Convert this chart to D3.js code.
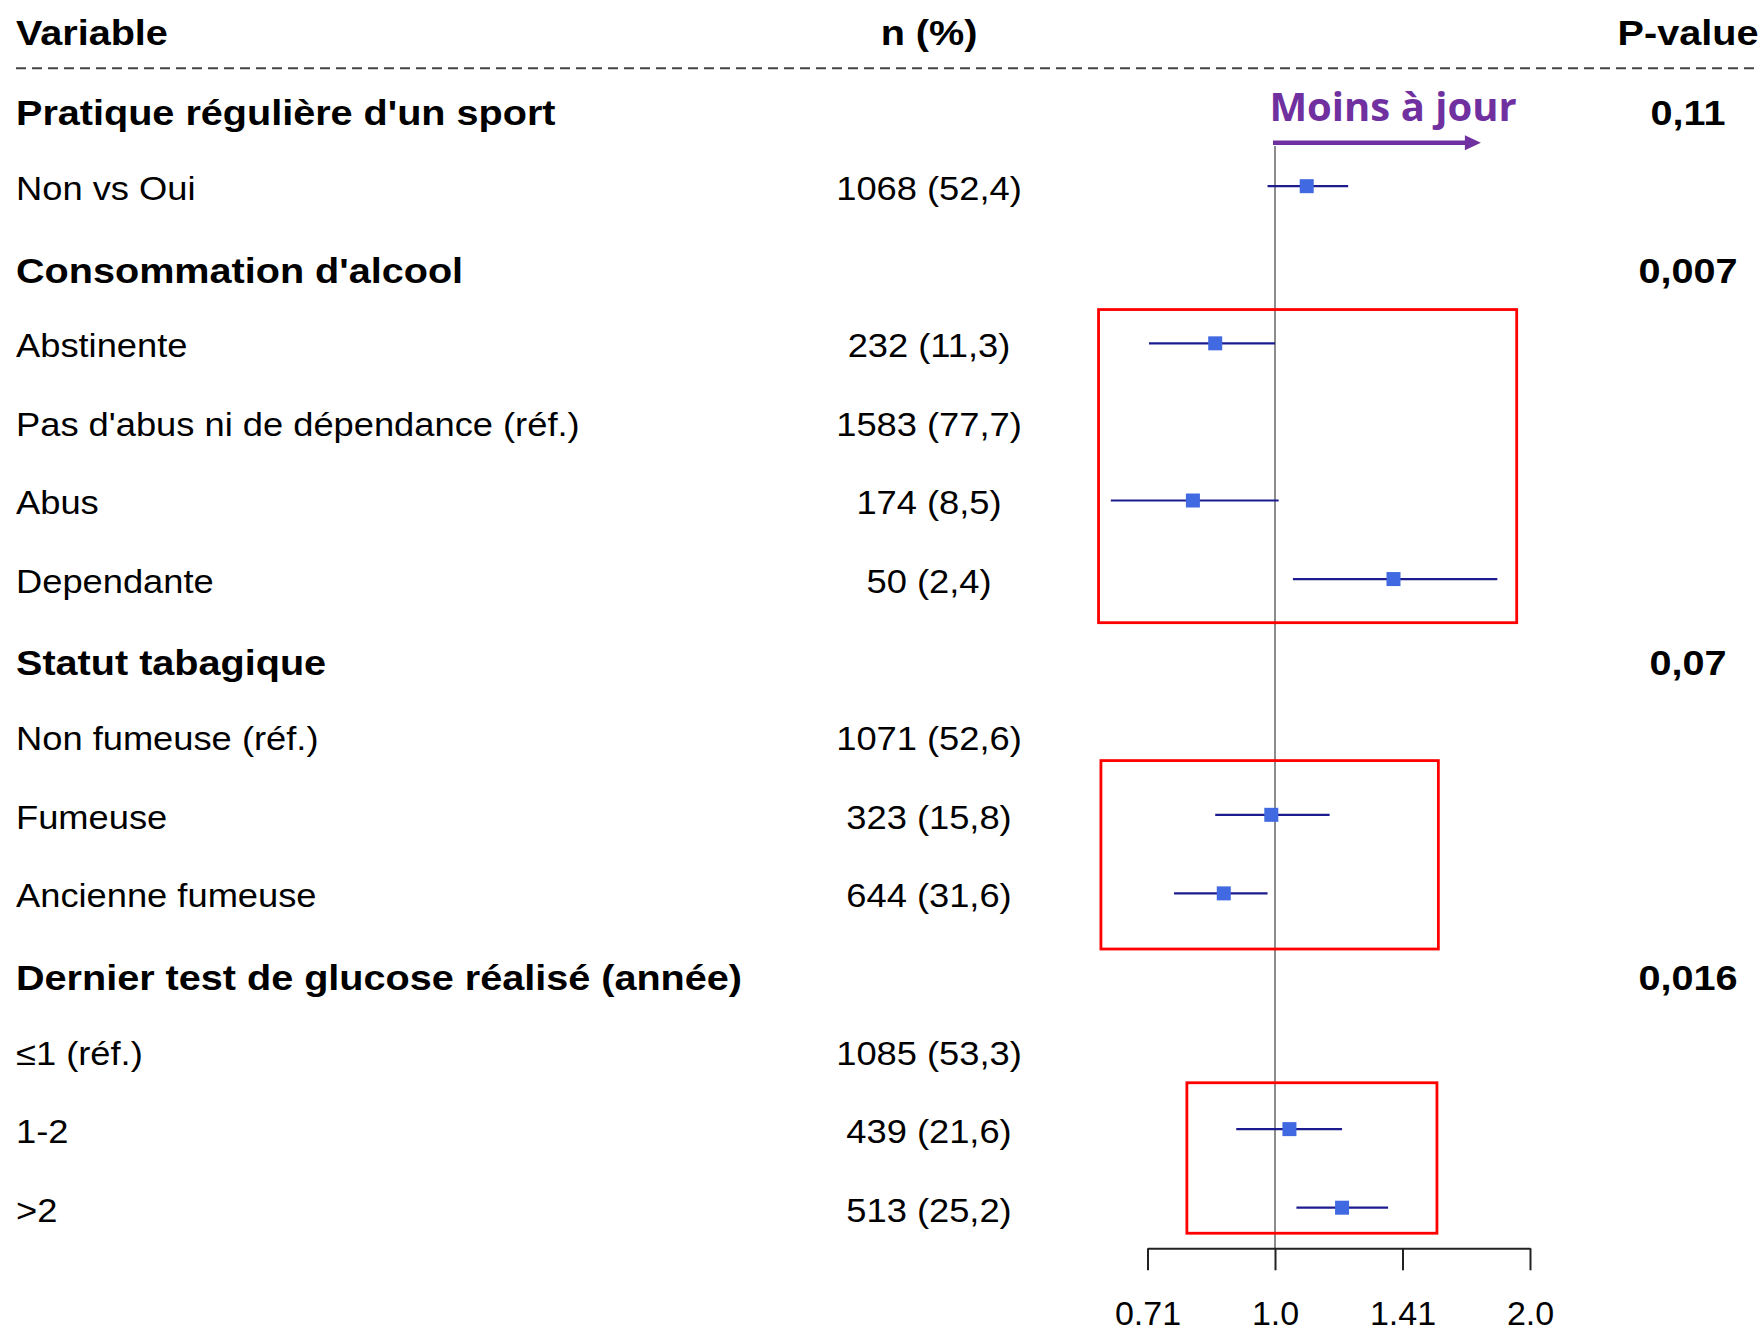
<!DOCTYPE html>
<html>
<head>
<meta charset="utf-8">
<script src="https://cdn.jsdelivr.net/npm/d3@7"></script>
<style>
  html, body { margin: 0; padding: 0; background: #fff; }
  svg { display: block; }
  text { font-family: "Liberation Sans", Arial, sans-serif; fill: #000; }
</style>
</head>
<body>
<svg id="chart" width="1762" height="1333"></svg>
<script>
// ---------- DATA ----------
const labels = [
  "Pratique régulière d'un sport",
  "Non vs Oui",
  "Consommation d'alcool",
  "Abstinente",
  "Pas d'abus ni de dépendance (réf.)",
  "Abus",
  "Dependante",
  "Statut tabagique",
  "Non fumeuse (réf.)",
  "Fumeuse",
  "Ancienne fumeuse",
  "Dernier test de glucose réalisé (année)",
  "≤1 (réf.)",
  "1-2",
  ">2"
];
const isGroup = [true, false, true, false, false, false, false, true, false, false, false, true, false, false, false];
const nPct = ["", "1068 (52,4)", "", "232 (11,3)", "1583 (77,7)", "174 (8,5)", "50 (2,4)", "",
              "1071 (52,6)", "323 (15,8)", "644 (31,6)", "", "1085 (53,3)", "439 (21,6)", "513 (25,2)"];
const pValues = ["0,11", "", "0,007", "", "", "", "", "0,07", "", "", "", "0,016", "", "", ""];
const orValues = [null, 1.09, null, 0.85, null, 0.80, 1.38, null, null, 0.99, 0.87, null, null, 1.04, 1.20];
const ciLow    = [null, 0.98, null, 0.71, null, 0.64, 1.05, null, null, 0.85, 0.76, null, null, 0.90, 1.06];
const ciHigh   = [null, 1.22, null, 1.00, null, 1.01, 1.83, null, null, 1.16, 0.98, null, null, 1.20, 1.36];

const tickValues = [0.7071, 1, 1.4142, 2];
const tickLabels = ["0.71", "1.0", "1.41", "2.0"];
const headers = ["Variable", "n (%)", "P-value"];

// highlighted boxes in data units: [xFrom, xTo, rowFrom, rowTo]
const boxXFrom = [0.619, 0.623, 0.787];
const boxXTo   = [1.929, 1.559, 1.553];
const boxRowFrom = [2.57, 8.31, 12.41];
const boxRowTo   = [6.555, 10.708, 14.325];

const arrowLabel = "Moins à jour";
const arrowFrom = 1, arrowTo = 1.75;

// ---------- LAYOUT ----------
const svg = d3.select("#chart");
const x = d3.scaleLog().base(2).domain([0.7071, 2]).range([1147.5, 1530]);
const y = d3.scaleLinear().domain([0, 14]).range([107.6, 1207.7]);
const axisY = 1248.3;
const colLabel = 16, colN = 929, colP = 1688;
const stretch = 1.1;

function addText(g, tx, ty, str, opts) {
  const t = g.append("text")
    .attr("transform", `translate(${tx},${ty}) scale(${opts.sx || stretch},1)`)
    .attr("text-anchor", opts.anchor || "start")
    .style("font-size", opts.size + "px")
    .style("font-weight", opts.bold ? "bold" : "normal")
    .text(str);
  if (opts.family) t.style("font-family", opts.family);
  if (opts.fill) t.style("fill", opts.fill);
  return t;
}

// headers
const hg = svg.append("g");
addText(hg, colLabel, 45, headers[0], {size: 36, bold: true});
addText(hg, colN, 45, headers[1], {size: 36, bold: true, anchor: "middle"});
addText(hg, colP, 45, headers[2], {size: 36, bold: true, anchor: "middle"});

svg.append("line")
  .attr("x1", 16).attr("x2", 1755).attr("y1", 68.3).attr("y2", 68.3)
  .attr("stroke", "#444").attr("stroke-width", 2).attr("stroke-dasharray", "10,6");

// row texts
const tg = svg.append("g");
labels.forEach((lab, i) => {
  const byBold = y(i) + 17.8;
  const byNorm = y(i) + 14;
  addText(tg, colLabel, isGroup[i] ? byBold : byNorm, lab, {size: isGroup[i] ? 36 : 33, bold: isGroup[i]});
  if (nPct[i]) addText(tg, colN, byNorm, nPct[i], {size: 33, anchor: "middle"});
  if (pValues[i]) addText(tg, colP, byBold, pValues[i], {size: 36, bold: true, anchor: "middle"});
});

// reference line
svg.append("line")
  .attr("x1", x(1)).attr("x2", x(1)).attr("y1", 146).attr("y2", axisY)
  .attr("stroke", "#8c8c8c").attr("stroke-width", 2);

// red boxes
svg.append("g").selectAll("rect").data(boxXFrom).join("rect")
  .attr("x", (d, i) => x(d))
  .attr("y", (d, i) => y(boxRowFrom[i]))
  .attr("width", (d, i) => x(boxXTo[i]) - x(d))
  .attr("height", (d, i) => y(boxRowTo[i]) - y(boxRowFrom[i]))
  .attr("fill", "none").attr("stroke", "#ff0000").attr("stroke-width", 2.8);

// CI lines and squares
const pts = orValues.map((v, i) => ({v, lo: ciLow[i], hi: ciHigh[i], i})).filter(d => d.v != null);
const mg = svg.append("g");
mg.selectAll("line").data(pts).join("line")
  .attr("x1", d => x(d.lo)).attr("x2", d => x(d.hi))
  .attr("y1", d => y(d.i)).attr("y2", d => y(d.i))
  .attr("stroke", "#1c1c8f").attr("stroke-width", 2.2);
const sq = 14;
mg.selectAll("rect").data(pts).join("rect")
  .attr("x", d => x(d.v) - sq / 2).attr("y", d => y(d.i) - sq / 2)
  .attr("width", sq).attr("height", sq)
  .attr("fill", "#4169e1");

// axis
const axis = d3.axisBottom(x).tickValues(tickValues)
  .tickFormat((d, i) => tickLabels[i]).tickSize(22).tickSizeOuter(0);
const ag = svg.append("g").attr("transform", `translate(0,${axisY})`).call(axis);
ag.select(".domain").attr("stroke", "#222").attr("stroke-width", 2);
ag.selectAll(".tick line").attr("stroke", "#222").attr("stroke-width", 2);
ag.selectAll(".tick text")
  .attr("y", 77).attr("dy", null)
  .style("font-size", "34px")
  .style("font-family", "'Liberation Sans', Arial, sans-serif")
  .attr("fill", "#000");

// arrow annotation
const purple = "#7030a0";
const arrowY = 142.7;
const tip = x(arrowTo);
svg.append("line")
  .attr("x1", x(arrowFrom) - 2).attr("x2", tip - 12).attr("y1", arrowY).attr("y2", arrowY)
  .attr("stroke", purple).attr("stroke-width", 4.5);
svg.append("path")
  .attr("d", `M${tip},${arrowY} L${tip - 16},${arrowY - 7.5} L${tip - 16},${arrowY + 7.5} Z`)
  .attr("fill", purple);
addText(svg, 1393, 121, arrowLabel, {size: 40, bold: true, anchor: "middle", sx: 1,
  family: "'Open Sans', 'Noto Sans', sans-serif", fill: purple});
</script>
</body>
</html>
